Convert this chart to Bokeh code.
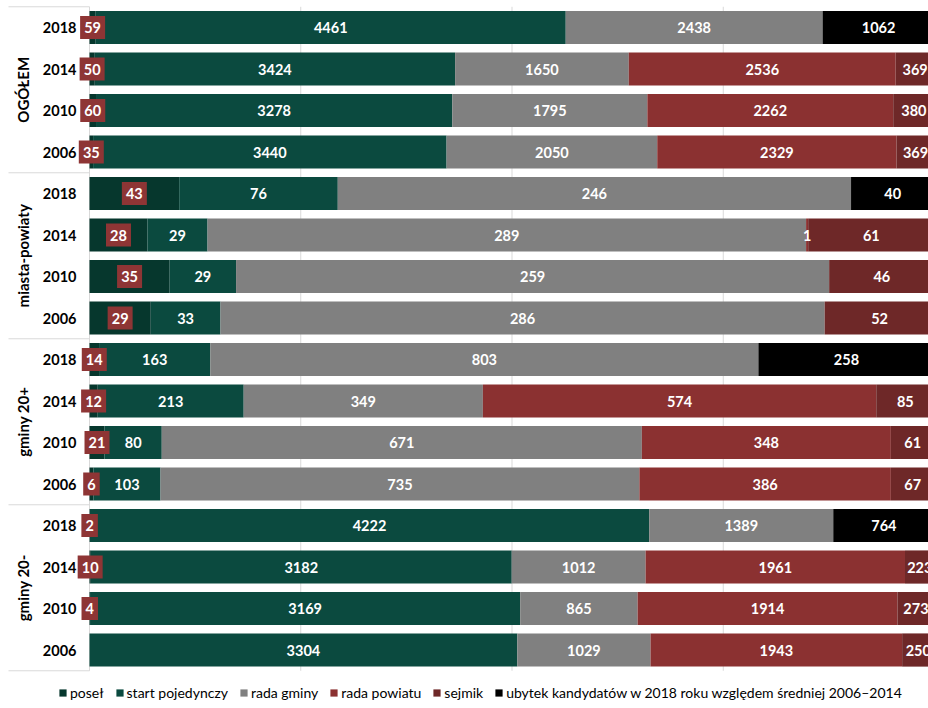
import numpy as np
from bokeh.plotting import figure
from bokeh.models import ColumnDataSource, Range1d, Legend, LegendItem
from bokeh.core.properties import value
from bokeh.embed import file_html
from bokeh.resources import INLINE

groups = ["OGÓŁEM", "miasta-powiaty", "gminy 20+", "gminy 20-"]
years = ["2018", "2014", "2010", "2006"]

posel  = [59, 50, 60, 35,   43, 28, 35, 29,   14, 12, 21, 6,   2, 10, 4, 0]
start  = [4461, 3424, 3278, 3440,   76, 29, 29, 33,   163, 213, 80, 103,   4222, 3182, 3169, 3304]
gmina  = [2438, 1650, 1795, 2050,   246, 289, 259, 286,   803, 349, 671, 735,   1389, 1012, 865, 1029]
powiat = [0, 2536, 2262, 2329,   0, 1, 0, 0,   0, 574, 348, 386,   0, 1961, 1914, 1943]
sejmik = [0, 369, 380, 369,   0, 61, 46, 52,   0, 85, 61, 67,   0, 223, 273, 250]
ubytek = [1062, 0, 0, 0,   40, 0, 0, 0,   258, 0, 0, 0,   764, 0, 0, 0]

series_names = ["poseł", "start pojedynczy", "rada gminy", "rada powiatu", "sejmik",
                "ubytek kandydatów w 2018 roku względem średniej 2006–2014"]
colors = ["#06372D", "#0B4A3F", "#808080", "#8B3131", "#6E2828", "#000000"]
grid_ticks = [0.25, 0.5, 0.75, 1.0]

n = len(posel)
rows = -np.arange(n, dtype=float)
vals = np.array([posel, start, gmina, powiat, sejmik, ubytek], dtype=float)
frac = vals / vals.sum(axis=0)
right = np.cumsum(frac, axis=0)
left = right - frac

FONT = value("Lato")
PX = 845.0  # pixels per 100%
p = figure(width=928, height=708,
           x_range=Range1d(-89 / PX, 839 / PX),
           y_range=Range1d(0.651 - 708 / 41.5, 0.651),
           x_axis_type=None, y_axis_type=None,
           toolbar_location=None, output_backend="svg",
           min_border=0, outline_line_color=None)

top_edge, bot_edge = 0.5, -(n - 0.5)
# gridlines
p.segment(x0=grid_ticks, x1=grid_ticks, y0=[top_edge] * len(grid_ticks), y1=[bot_edge] * len(grid_ticks),
          line_color="#d9d9d9", line_width=1)
# axis line
p.segment(x0=[0], x1=[0], y0=[top_edge], y1=[bot_edge], line_color="#d9d9d9", line_width=1)
# group separators
seps = [0.5 - 4 * g for g in range(len(groups) + 1)]
p.segment(x0=[-81 / PX] * len(seps), x1=[0] * len(seps), y0=seps, y1=seps,
          line_color="#d9d9d9", line_width=1)

items = []
for k, name in enumerate(series_names):
    src = ColumnDataSource(dict(y=rows, left=left[k], right=right[k]))
    r = p.hbar(y="y", left="left", right="right", height=0.8, source=src,
               fill_color=colors[k], line_color=None)
    items.append(LegendItem(label=name, renderers=[r]))

# value labels (non-posel)
lx, ly, lt = [], [], []
for k in range(1, len(series_names)):
    for i in range(n):
        if vals[k, i] > 0:
            lx.append((left[k, i] + right[k, i]) / 2)
            ly.append(rows[i])
            lt.append(str(int(vals[k, i])))
p.text(x=lx, y=ly, text=lt, text_color="white", text_font=FONT, text_font_style="bold",
       text_font_size="14.5px", text_align="center", text_baseline="middle")

# posel labels with red boxes
px_, py_, pt_ = [], [], []
for i in range(n):
    if vals[0, i] > 0:
        px_.append((left[0, i] + right[0, i]) / 2)
        py_.append(rows[i])
        pt_.append(str(int(vals[0, i])))
box_w = [8.5 * len(t) + 8 for t in pt_]
p.rect(x=px_, y=py_, width=box_w, height=23, width_units="screen", height_units="screen",
       fill_color="#8E3535", line_color=None)
p.text(x=px_, y=py_, text=pt_, text_color="white", text_font=FONT, text_font_style="bold",
       text_font_size="14.5px", text_align="center", text_baseline="middle")

# year labels
p.text(x=[-13 / PX] * n, y=rows, text=[years[i % 4] for i in range(n)], text_color="black",
       text_font=FONT, text_font_style="bold", text_font_size="14.5px",
       text_align="right", text_baseline="middle")

# group labels
p.text(x=[-67 / PX] * len(groups), y=[-1.5 - 4 * g for g in range(len(groups))], text=groups,
       angle=np.pi / 2, text_color="black", text_font=FONT, text_font_style="bold",
       text_font_size="15px", text_align="center", text_baseline="middle")

legend = Legend(items=items, orientation="horizontal", location=(58, 7),
                glyph_width=9, glyph_height=9, label_standoff=3, spacing=11,
                padding=0, margin=0, border_line_color=None, background_fill_alpha=0,
                label_text_font="Lato", label_text_font_size="14px", label_text_color="black",
                label_height=14)
p.add_layout(legend)

open("out.html", "w").write(file_html(p, INLINE))
